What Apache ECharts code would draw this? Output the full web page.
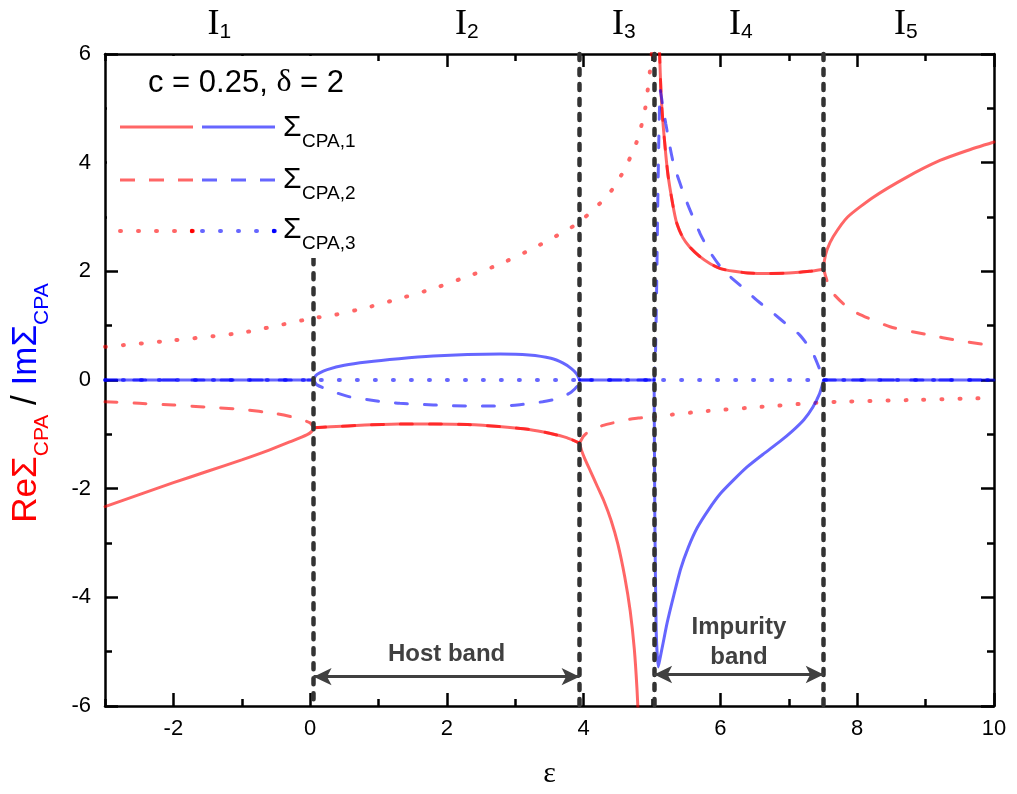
<!DOCTYPE html>
<html>
<head>
<meta charset="utf-8">
<script src="https://cdn.jsdelivr.net/npm/echarts@6/dist/echarts.min.js"></script>
<style>
  html, body { margin: 0; padding: 0; background: #fff; }
  #chart { width: 1017px; height: 794px; }
</style>
</head>
<body>
<div id="chart"></div>
<script>
// axis ranges and ticks
var X_MIN = -3, X_MAX = 10, Y_MIN = -6, Y_MAX = 6;
var xMajor = [-2, 0, 2, 4, 6, 8, 10];

// band edges (eps) and where each dashed guide starts at the top
var edges = [0.05, 3.94, 5.03, 7.51];
var edgeTops = [2.24, 6, 6, 6];

// Re Sigma_CPA,1 (solid red), by interval
var re1_I1 = [[-3, -2.33], [-2.5, -2.11], [-2, -1.89], [-1.5, -1.68], [-1, -1.47], [-0.6, -1.29], [-0.3, -1.14], [-0.05, -1.01], [0.02, -0.95], [0.05, -0.88]];
var re1_I2 = [[0.05, -0.88], [0.3, -0.86], [0.8, -0.83], [1.3, -0.81], [1.8, -0.81], [2.3, -0.82], [2.8, -0.86], [3.2, -0.91], [3.5, -0.98], [3.75, -1.06], [3.94, -1.16]];
var re1_I3 = [[3.94, -1.16], [3.97, -1.3], [4.02, -1.46], [4.1, -1.68], [4.2, -1.96], [4.3, -2.24], [4.4, -2.58], [4.5, -3.02], [4.6, -3.62], [4.68, -4.25], [4.74, -4.95], [4.78, -5.7], [4.81, -6.5]];
var re1_I4 = [[5.09, 6.6], [5.11, 6.0], [5.13, 5.3], [5.16, 4.72], [5.23, 3.8], [5.3, 3.25], [5.36, 2.89], [5.45, 2.62], [5.55, 2.45], [5.7, 2.27], [5.85, 2.14], [6.0, 2.05], [6.2, 2.0], [6.4, 1.97], [6.7, 1.96], [7.0, 1.97], [7.3, 2.0], [7.51, 2.04]];
var re1_I5 = [[7.51, 2.06], [7.52, 2.2], [7.56, 2.4], [7.65, 2.64], [7.86, 3.0], [8.23, 3.36], [8.72, 3.73], [9.21, 4.04], [9.6, 4.22], [10, 4.38]];

// Re Sigma_CPA,2 (dashed red); in I2 and I4 it lies on Re Sigma_CPA,1
var re2_I1 = [[-3, -0.4], [-2.5, -0.43], [-2, -0.46], [-1.5, -0.5], [-1, -0.54], [-0.5, -0.62], [-0.2, -0.7], [0, -0.79], [0.05, -0.88]];
var re2_I3 = [[3.94, -1.16], [4.0, -1.03], [4.1, -0.92], [4.3, -0.83], [4.6, -0.74], [4.8, -0.7], [5.03, -0.68]];
var re2_I5 = [[7.51, 2.04], [7.54, 1.9], [7.61, 1.65], [7.8, 1.4], [8.0, 1.23], [8.48, 0.98], [9.0, 0.84], [9.5, 0.72], [10, 0.63]];

// Re Sigma_CPA,3 (dotted red)
var re3_a = [[-3, 0.61], [-2, 0.73], [-1, 0.87], [0.05, 1.14], [0.33, 1.19], [0.85, 1.34], [1.34, 1.51], [1.82, 1.69], [2.31, 1.91], [2.77, 2.13], [3.24, 2.41], [3.7, 2.72], [3.92, 2.89], [4.12, 3.11], [4.3, 3.33], [4.45, 3.56], [4.59, 3.86], [4.7, 4.15], [4.8, 4.47], [4.9, 5.0], [4.97, 5.7], [5.02, 6.3]];
var re3_b = [[5.03, -0.68], [5.27, -0.64], [5.81, -0.57], [6.54, -0.5], [7.28, -0.43], [7.75, -0.4], [8.73, -0.37], [10, -0.33]];

// Im Sigma_CPA,1 (solid blue)
var im1_I1 = [[-3, 0], [0.05, 0]];
var im1_I2 = [[0.05, 0], [0.08, 0.08], [0.14, 0.13], [0.25, 0.19], [0.5, 0.27], [0.83, 0.33], [1.3, 0.39], [1.8, 0.44], [2.3, 0.47], [2.78, 0.48], [3.2, 0.46], [3.52, 0.4], [3.7, 0.31], [3.82, 0.21], [3.9, 0.11], [3.94, 0]];
var im1_I3 = [[3.94, 0], [5.03, 0]];
var im1_I4 = [[5.03, 0], [5.04, -2.5], [5.06, -4.6], [5.09, -5.28], [5.12, -5.1], [5.16, -4.85], [5.22, -4.47], [5.32, -3.95], [5.42, -3.47], [5.53, -3.08], [5.66, -2.72], [5.83, -2.38], [6.0, -2.09], [6.2, -1.83], [6.39, -1.6], [6.63, -1.36], [6.87, -1.13], [7.05, -0.94], [7.22, -0.73], [7.35, -0.5], [7.45, -0.25], [7.51, 0]];
var im1_I5 = [[7.51, 0], [10, 0]];

// Im Sigma_CPA,2 (dashed blue); zero where Im Sigma_CPA,1 is zero
var im2_I2 = [[0.05, 0], [0.1, -0.09], [0.3, -0.2], [0.58, -0.31], [1.0, -0.39], [1.31, -0.43], [1.8, -0.46], [2.3, -0.48], [2.7, -0.48], [3.03, -0.46], [3.4, -0.4], [3.66, -0.33], [3.82, -0.22], [3.9, -0.12], [3.94, 0]];
var im2_I4 = [[5.03, 0], [5.05, 0.5], [5.07, 1.97], [5.08, 3.0], [5.1, 4.5], [5.12, 5.33], [5.15, 5.1], [5.2, 4.72], [5.31, 4.0], [5.5, 3.3], [5.7, 2.7], [5.85, 2.35], [6.04, 2.02], [6.3, 1.73], [6.53, 1.47], [6.78, 1.22], [7.01, 0.98], [7.15, 0.84], [7.26, 0.67], [7.36, 0.47], [7.45, 0.2], [7.51, 0]];

// Im Sigma_CPA,3 (dotted blue)
var im3 = [[-3, 0], [10, 0]];

var SANS = '"Liberation Sans", Arial, sans-serif';
var SERIF = '"Liberation Serif", "Times New Roman", serif';
var RE = 'rgba(255,0,0,0.6)';
var IM = 'rgba(0,0,255,0.6)';
var DASH = [12, 17];
var DOT = [1, 17];
var GUIDE = '#333333';

function seg(data, color, dash) {
  return {
    type: 'line',
    data: data,
    showSymbol: false,
    symbol: 'none',
    smooth: 0.2,
    clip: true,
    silent: true,
    z: 2,
    lineStyle: { color: color, width: dash === DOT ? 4 : 3, type: dash, cap: 'round' }
  };
}

var series = [
  seg(re1_I1, RE, 'solid'), seg(re1_I2, RE, 'solid'), seg(re1_I3, RE, 'solid'), seg(re1_I4, RE, 'solid'), seg(re1_I5, RE, 'solid'),
  seg(re2_I1, RE, DASH), seg(re1_I2, RE, DASH), seg(re2_I3, RE, DASH), seg(re1_I4, RE, DASH), seg(re2_I5, RE, DASH),
  seg(re3_a, RE, DOT), seg(re3_b, RE, DOT),
  seg(im1_I1, IM, 'solid'), seg(im1_I2, IM, 'solid'), seg(im1_I3, IM, 'solid'), seg(im1_I4, IM, 'solid'), seg(im1_I5, IM, 'solid'),
  seg(im1_I1, IM, DASH), seg(im2_I2, IM, DASH), seg(im1_I3, IM, DASH), seg(im2_I4, IM, DASH), seg(im1_I5, IM, DASH),
  seg(im3, IM, DOT)
];

// vertical dashed guides at the band edges
series.push({
  type: 'line', data: [], z: 5, silent: true,
  markLine: {
    silent: true, animation: false, symbol: ['none', 'none'],
    label: { show: false },
    lineStyle: { color: GUIDE, width: 4.5, type: [6, 9], cap: 'round', opacity: 1 },
    emphasis: { disabled: true },
    data: edges.map(function (e, i) {
      return [{ coord: [e, edgeTops[i]] }, { coord: [e, Y_MIN] }];
    })
  }
});

// band arrows
series.push({
  type: 'line', data: [], z: 5, silent: true,
  markLine: {
    silent: true, animation: false,
    symbol: ['arrow', 'arrow'], symbolSize: [13, 18],
    lineStyle: { color: '#404040', width: 3, type: 'solid', opacity: 1 },
    emphasis: { disabled: true },
    label: {
      show: true, position: 'insideMiddleTop', color: '#404040',
      fontSize: 24, fontWeight: 'bold', fontFamily: SANS
    },
    data: [
      [{ coord: [edges[0], -5.46], label: { formatter: 'Host band', distance: 10 } }, { coord: [edges[1], -5.46] }],
      [{ coord: [edges[2], -5.42], label: { formatter: 'Impurity\nband', lineHeight: 30, distance: 2 } }, { coord: [edges[3], -5.42] }]
    ]
  }
});

function xAx(pos, major) {
  var a = {
    type: 'value', min: X_MIN, max: X_MAX, position: pos,
    axisLine: { show: major, onZero: false, lineStyle: { color: '#000', width: 2.5 } },
    axisTick: { show: true, inside: true, length: major ? 13 : 7, lineStyle: { color: '#000', width: 2.5 } },
    axisLabel: { show: false },
    splitLine: { show: false }
  };
  if (major) { a.axisTick.customValues = xMajor; } else { a.interval = 1; }
  return a;
}
function yAx(pos, major) {
  return {
    type: 'value', min: Y_MIN, max: Y_MAX, position: pos, interval: major ? 2 : 1,
    axisLine: { show: major, onZero: false, lineStyle: { color: '#000', width: 2.5 } },
    axisTick: { show: true, inside: true, length: major ? 13 : 7, lineStyle: { color: '#000', width: 2.5 } },
    axisLabel: { show: false },
    splitLine: { show: false }
  };
}

var xAxes = [xAx('bottom', true), xAx('bottom', false), xAx('top', true), xAx('top', false)];
xAxes[0].axisLabel = { show: true, customValues: xMajor, fontSize: 22, fontFamily: SANS, color: '#000', margin: 12 };
xAxes[0].name = 'ε';
xAxes[0].nameLocation = 'middle';
xAxes[0].nameGap = 53;
xAxes[0].nameTextStyle = { fontFamily: SERIF, fontSize: 30, color: '#000' };

var yAxes = [yAx('left', true), yAx('left', false), yAx('right', true), yAx('right', false)];
yAxes[0].axisLabel = { show: true, fontSize: 22, fontFamily: SANS, color: '#000', margin: 14 };

// legend, annotations, region labels
var graphic = [
  { type: 'rect', shape: { x: 107, y: 56, width: 230, height: 202 }, style: { fill: '#fff' }, z: 100, silent: true },
  { type: 'text', x: 148, y: 83, z: 101, silent: true,
    style: { text: '{t|c = 0.25, }{d|δ}{t| = 2}', verticalAlign: 'middle',
      rich: { t: { fontSize: 31, fontFamily: SANS, fill: '#000' }, d: { fontSize: 32, fontFamily: SERIF, fill: '#000' } } } }
];

var legendRows = [
  { y: 127, sy: 127.5, sub: 'CPA,1', dash: null },
  { y: 180, sy: 179.5, sub: 'CPA,2', dash: [15, 14] },
  { y: 231, sy: 229.5, sub: 'CPA,3', dash: DOT }
];
legendRows.forEach(function (r) {
  var w = r.dash === DOT ? 4 : 3;
  graphic.push({ type: 'line', z: 101, silent: true, shape: { x1: 120, y1: r.y, x2: 193, y2: r.y },
    style: { stroke: RE, lineWidth: w, lineDash: r.dash, lineCap: r.dash === DOT ? 'round' : 'butt' } });
  graphic.push({ type: 'line', z: 101, silent: true, shape: { x1: 202, y1: r.y, x2: 275, y2: r.y },
    style: { stroke: IM, lineWidth: w, lineDash: r.dash, lineCap: r.dash === DOT ? 'round' : 'butt' } });
  graphic.push({ type: 'text', x: 283, y: r.sy, z: 101, silent: true,
    style: { text: 'Σ', fontSize: 30, fontFamily: SANS, fill: '#000', verticalAlign: 'middle' } });
  graphic.push({ type: 'text', x: 302, y: r.sy + 14, z: 101, silent: true,
    style: { text: r.sub, fontSize: 19, fontFamily: SANS, fill: '#000', verticalAlign: 'middle' } });
});
graphic.push({ type: 'circle', z: 102, silent: true, shape: { cx: 192, cy: 231, r: 2.2 }, style: { fill: '#ff0000' } });
graphic.push({ type: 'circle', z: 102, silent: true, shape: { cx: 274, cy: 231, r: 2.2 }, style: { fill: '#0000ff' } });

var regionLabels = [
  { x: 213.5, d: '1' }, { x: 461, d: '2' }, { x: 618, d: '3' }, { x: 735, d: '4' }, { x: 900, d: '5' }
];
regionLabels.forEach(function (r) {
  graphic.push({ type: 'text', x: r.x, y: 25, z: 101, silent: true,
    style: { text: 'I', fontSize: 36, fontFamily: SERIF, fill: '#000', align: 'center', verticalAlign: 'middle' } });
  graphic.push({ type: 'text', x: r.x + 6, y: 32.5, z: 101, silent: true,
    style: { text: r.d, fontSize: 21, fontFamily: SANS, fill: '#000', verticalAlign: 'middle' } });
});

graphic.push({
  type: 'text', x: 26, y: 403, rotation: Math.PI / 2, z: 101, silent: true,
  style: {
    text: '{r|ReΣ}{rs|CPA}{k| / }{b|ImΣ}{bs|CPA}',
    align: 'center', verticalAlign: 'middle',
    rich: {
      r: { fontSize: 35, fontFamily: SANS, fill: '#ff0000' },
      rs: { fontSize: 21, fontFamily: SANS, fill: '#ff0000', padding: [33, 0, 0, 0] },
      k: { fontSize: 35, fontFamily: SANS, fill: '#000' },
      b: { fontSize: 35, fontFamily: SANS, fill: '#0000ff' },
      bs: { fontSize: 21, fontFamily: SANS, fill: '#0000ff', padding: [33, 0, 0, 0] }
    }
  }
});

var chart = echarts.init(document.getElementById('chart'), null, { renderer: 'canvas' });
chart.setOption({
  animation: false,
  backgroundColor: '#fff',
  grid: { left: 105, right: 23, top: 54, bottom: 87 },
  xAxis: xAxes,
  yAxis: yAxes,
  series: series,
  graphic: graphic
});
</script>
</body>
</html>
